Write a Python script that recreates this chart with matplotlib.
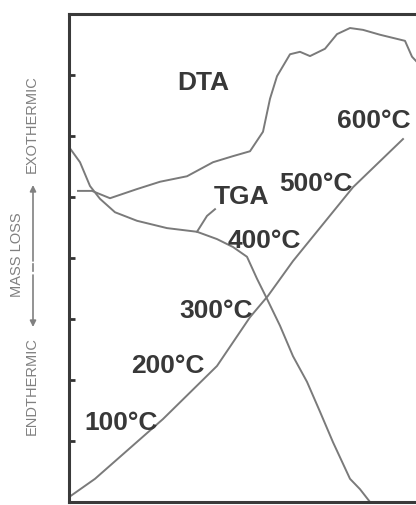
import matplotlib.pyplot as plt

# Curves (x: arbitrary time units, y: tick units 0-8)
temp_x = [0.0, 2.6, 9.4, 14.8, 18.1, 19.9, 22.4, 28.4, 33.4]
temp_y = [0.08, 0.38, 1.36, 2.23, 3.03, 3.38, 3.95, 5.16, 5.95]

dta_x = [0.9, 2.3, 4.1, 6.8, 9.1, 11.8, 14.4, 16.4, 18.1, 19.4, 20.1, 20.8, 22.1,
         23.1, 24.1, 25.6, 26.8, 28.1, 29.4, 31.1, 33.6, 34.3, 35.1, 36.1]
dta_y = [5.10, 5.10, 4.98, 5.13, 5.25, 5.34, 5.57, 5.67, 5.75, 6.07, 6.61, 6.98, 7.34,
         7.38, 7.31, 7.43, 7.67, 7.77, 7.74, 7.66, 7.56, 7.30, 7.16, 6.93]

tga_x = [0.0, 1.1, 2.1, 3.1, 4.6, 6.8, 9.8, 12.8, 14.8, 16.4, 17.8, 18.8, 19.8,
         21.1, 22.4, 23.8, 25.1, 26.4, 28.1, 29.1, 30.1]
tga_y = [5.82, 5.57, 5.18, 4.97, 4.75, 4.61, 4.49, 4.43, 4.31, 4.18, 4.02, 3.66, 3.33,
         2.89, 2.39, 1.97, 1.48, 0.98, 0.38, 0.21, 0.0]

leader_x = [12.8, 13.8, 14.6]
leader_y = [4.43, 4.69, 4.80]

temp_labels = ['100°C', '200°C', '300°C', '400°C', '500°C', '600°C']
temp_label_x = [5.2, 9.9, 14.7, 19.5, 24.7, 30.5]
temp_label_y = [1.31, 2.25, 3.15, 4.30, 5.23, 6.26]

W, H = 416, 506
fig = plt.figure(figsize=(W / 100, H / 100), dpi=100)
ax = fig.add_axes([69 / W, 3 / H, 391 / W, 488 / H])

line_col = '#7a7a7a'
for xs, ys in [(temp_x, temp_y), (dta_x, dta_y), (tga_x, tga_y), (leader_x, leader_y)]:
    ax.plot(xs, ys, color=line_col, lw=1.4, solid_joinstyle='round')

txt = dict(fontfamily='Liberation Sans', fontweight='bold', fontsize=19,
           color='#383838', ha='center', va='center')
for lab, lx, ly in zip(temp_labels, temp_label_x, temp_label_y):
    ax.text(lx, ly, lab, **txt)
ax.text(13.4, 6.89, 'DTA', **txt)
ax.text(17.3, 5.02, 'TGA', **txt)

ax.set_xlim(0, 39.1)
ax.set_ylim(0, 8)
ax.set_xticks([])
ax.set_yticks(range(9))
ax.set_yticklabels([])
ax.tick_params(axis='y', direction='in', length=4, width=2, color='#333333')
ax.spines['right'].set_visible(False)
for s in ['left', 'top', 'bottom']:
    ax.spines[s].set_linewidth(2.2)
    ax.spines[s].set_color('#3a3a3a')

# side label
lab_col = '#808080'
def fx(px):
    return px / W
def fy(py):
    return 1 - py / H

side = dict(fontfamily='Liberation Sans', fontsize=10.5, color=lab_col,
            rotation=90, ha='center', va='center')
fig.text(fx(32), fy(124), 'EXOTHERMIC', **side)
fig.text(fx(32), fy(386), 'ENDTHERMIC', **side)
fig.text(fx(17), fy(255), 'MASS LOSS', **side)
arrow = dict(arrowstyle='-|>', color=lab_col, lw=1.2, mutation_scale=9,
             shrinkA=0, shrinkB=0)
ax.annotate('', xy=(fx(33), fy(186)), xytext=(fx(33), fy(262)),
            xycoords='figure fraction', textcoords='figure fraction', arrowprops=arrow)
ax.annotate('', xy=(fx(33), fy(328)), xytext=(fx(33), fy(276)),
            xycoords='figure fraction', textcoords='figure fraction', arrowprops=arrow)
fig.add_artist(plt.Line2D([fx(33), fx(33)], [fy(265), fy(272)], color=lab_col, lw=1.2))

fig.savefig('out.png', dpi=100)
